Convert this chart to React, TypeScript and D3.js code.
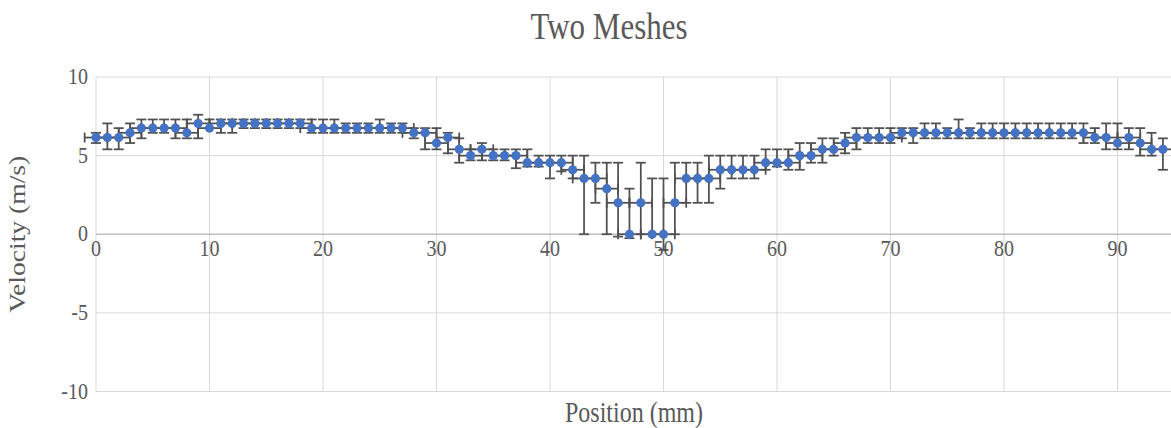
import * as d3 from 'd3';

// Position along the channel (mm)
const positions = [
  0, 1, 2, 3, 4, 5, 6, 7, 8, 9, 10, 11, 12, 13, 14, 15, 16, 17, 18, 19,
  20, 21, 22, 23, 24, 25, 26, 27, 28, 29, 30, 31, 32, 33, 34, 35, 36, 37, 38, 39,
  40, 41, 42, 43, 44, 45, 46, 47, 48, 49, 50, 51, 52, 53, 54, 55, 56, 57, 58, 59,
  60, 61, 62, 63, 64, 65, 66, 67, 68, 69, 70, 71, 72, 73, 74, 75, 76, 77, 78, 79,
  80, 81, 82, 83, 84, 85, 86, 87, 88, 89, 90, 91, 92, 93, 94,
];

// Velocity (m/s)
const velocity = [
  6.15, 6.15, 6.15, 6.45, 6.75, 6.75, 6.75, 6.75, 6.45, 7.05,
  6.75, 7.05, 7.05, 7.05, 7.05, 7.05, 7.05, 7.05, 7.05, 6.75,
  6.75, 6.75, 6.75, 6.75, 6.75, 6.75, 6.75, 6.75, 6.45, 6.45,
  5.8, 6.15, 5.4, 5.0, 5.4, 5.0, 5.0, 5.0, 4.55, 4.55,
  4.55, 4.55, 4.1, 3.55, 3.55, 2.9, 2.0, 0, 2.0, 0,
  0, 2.0, 3.55, 3.55, 3.55, 4.1, 4.1, 4.1, 4.1, 4.55,
  4.55, 4.55, 5.0, 5.0, 5.4, 5.4, 5.8, 6.15, 6.15, 6.15,
  6.15, 6.45, 6.45, 6.45, 6.45, 6.45, 6.45, 6.45, 6.45, 6.45,
  6.45, 6.45, 6.45, 6.45, 6.45, 6.45, 6.45, 6.45, 6.15, 6.15,
  5.8, 6.15, 5.8, 5.4, 5.4,
];

// top of each vertical error bar
const upper = [
  6.45, 7.05, 6.75, 7.05, 7.3, 7.3, 7.3, 7.3, 7.3, 7.6,
  7.3, 7.3, 7.3, 7.3, 7.3, 7.3, 7.3, 7.3, 7.3, 7.3,
  7.3, 7.3, 7.05, 7.05, 7.05, 7.3, 7.05, 7.05, 6.75, 6.75,
  6.75, 6.45, 6.1, 5.4, 5.8, 5.4, 5.4, 5.4, 5.4, 5.0,
  5.0, 5.0, 5.0, 5.0, 4.55, 4.55, 4.55, 2.9, 4.55, 3.55,
  3.55, 4.55, 4.55, 4.55, 5.0, 5.0, 5.0, 5.0, 5.0, 5.4,
  5.4, 5.4, 5.8, 5.8, 6.1, 6.1, 6.45, 6.75, 6.75, 6.75,
  6.75, 6.75, 6.75, 7.05, 7.05, 6.75, 7.3, 6.75, 7.05, 7.05,
  7.05, 7.05, 7.05, 7.05, 7.05, 7.05, 7.05, 7.05, 6.75, 7.05,
  7.05, 6.75, 6.75, 6.45, 6.1,
];

// bottom of each vertical error bar
const lower = [
  5.8, 5.4, 5.4, 5.8, 6.1, 6.45, 6.45, 6.1, 6.1, 6.1,
  6.75, 6.45, 6.45, 6.75, 6.75, 6.75, 6.75, 6.75, 6.75, 6.45,
  6.45, 6.45, 6.45, 6.45, 6.45, 6.45, 6.45, 6.45, 6.1, 5.4,
  5.4, 5.15, 4.55, 4.7, 4.7, 4.7, 4.7, 4.2, 4.3, 4.3,
  3.55, 4.0, 3.55, 0, 2.0, 0, -0.15, -0.25, 0, 0,
  -1.0, 0, 2.0, 2.0, 2.0, 2.9, 3.55, 3.55, 3.55, 4.1,
  4.3, 4.1, 4.1, 4.55, 4.55, 5.0, 5.15, 5.4, 5.8, 5.8,
  5.8, 6.1, 5.8, 6.1, 6.1, 6.1, 6.1, 6.1, 6.1, 6.1,
  6.1, 6.1, 6.1, 6.1, 6.1, 6.1, 6.1, 5.8, 5.8, 5.4,
  5.4, 5.4, 5.0, 5.0, 4.1,
];

// horizontal error (mm) either side of each point
const xErr = 1;

const xTicks = [0, 10, 20, 30, 40, 50, 60, 70, 80, 90];
const yTicks = [-10, -5, 0, 5, 10];

const W = 1171;
const H = 428;
const left = 96;
const top = 77;
const bottom = 391.5;

export default function App() {
  const x = d3.scaleLinear().domain([0, 100]).range([left, left + 1135]);
  const y = d3.scaleLinear().domain([-10, 10]).range([bottom, top]);
  const serif = { fontFamily: "'Liberation Serif', 'Times New Roman', Times, serif" };
  const grey = '#595959';
  const barColor = '#505050';
  const cap = 5;
  // the source text is drawn a little taller than wide
  const stretch = 1.2;

  return (
    <div style={{ position: 'absolute', left: 0, top: 0 }}>
      <svg width={W} height={H} style={{ display: 'block', background: '#fff' }}>
        {/* gridlines */}
        {xTicks.map(t => (
          <line key={'gx' + t} x1={x(t)} x2={x(t)} y1={y(10)} y2={y(-10)} stroke="#d9d9d9" strokeWidth={1} />
        ))}
        {yTicks.map(t => (
          <line key={'gy' + t} x1={left} x2={W} y1={y(t)} y2={y(t)}
            stroke={t === 0 ? '#bfbfbf' : '#d9d9d9'} strokeWidth={t === 0 ? 1.5 : 1} />
        ))}

        {/* y labels */}
        {yTicks.map(t => (
          <text key={'ly' + t}
            transform={`translate(${left - 8}, ${y(t) + 7}) scale(1, ${stretch})`}
            textAnchor="end" style={serif} fontSize={20} fill={grey}>{t}</text>
        ))}
        {/* x labels sit on the zero axis */}
        {xTicks.map(t => (
          <text key={'lx' + t}
            transform={`translate(${x(t)}, ${y(0) + 22}) scale(1, ${stretch})`}
            textAnchor="middle" style={serif} fontSize={20} fill={grey}>{t}</text>
        ))}

        {/* error bars */}
        <g stroke={barColor} strokeWidth={1.75} fill="none">
          {positions.map((p, i) => {
            const cx = x(p);
            const cy = y(velocity[i]);
            const x0 = x(p - xErr);
            const x1 = x(p + xErr);
            return (
              <g key={'e' + p}>
                <line x1={x0} x2={x1} y1={cy} y2={cy} />
                <line x1={x0} x2={x0} y1={cy - cap} y2={cy + cap} />
                <line x1={x1} x2={x1} y1={cy - cap} y2={cy + cap} />
                <line x1={cx} x2={cx} y1={y(upper[i])} y2={y(lower[i])} />
                <line x1={cx - cap} x2={cx + cap} y1={y(upper[i])} y2={y(upper[i])} />
                <line x1={cx - cap} x2={cx + cap} y1={y(lower[i])} y2={y(lower[i])} />
              </g>
            );
          })}
        </g>

        {/* markers */}
        {positions.map((p, i) => (
          <circle key={'m' + p} cx={x(p)} cy={y(velocity[i])} r={4.6} fill="#4472C4" />
        ))}

        {/* titles */}
        <text transform={`translate(609, 39) scale(1, ${stretch})`} textAnchor="middle"
          style={serif} fontSize={31} fill={grey}>Two Meshes</text>
        <text transform={`translate(634, 422) scale(1, ${stretch})`} textAnchor="middle"
          style={serif} fontSize={24} fill={grey}>Position (mm)</text>
        <text transform={`translate(25, ${y(0)}) rotate(-90) scale(${stretch}, 1)`} textAnchor="middle"
          style={serif} fontSize={23} fill={grey}>Velocity (m/s)</text>
      </svg>
    </div>
  );
}
